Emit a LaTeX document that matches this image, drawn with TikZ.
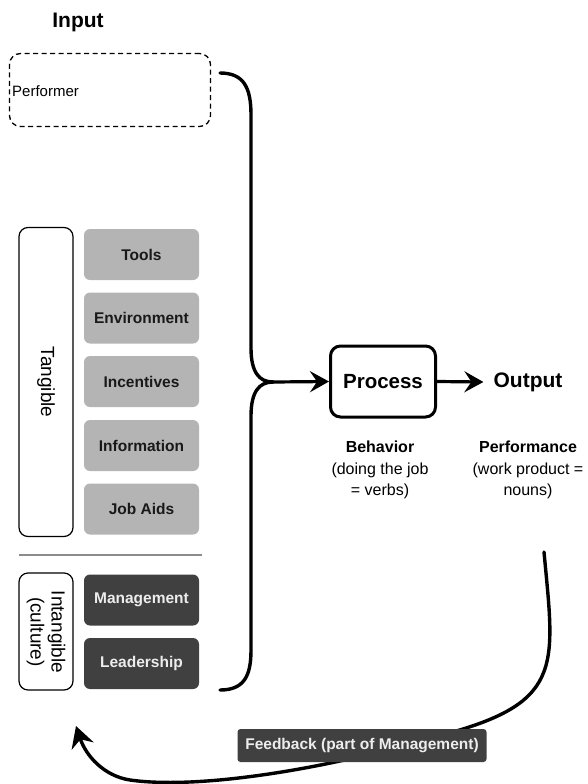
\documentclass[tikz,border=0pt]{standalone}
\usepackage{fontspec}
\setmainfont{Liberation Sans}
\usetikzlibrary{arrows.meta}
\definecolor{lightbox}{HTML}{B4B4B4}
\definecolor{darkbox}{HTML}{404040}
\definecolor{septone}{HTML}{8C8C8C}
\begin{document}
\begin{tikzpicture}[x=1pt,y=-1pt,
  lbox/.style={draw=none,fill=lightbox,rounded corners=6pt,minimum width=115pt,minimum height=51pt,inner sep=0pt,
    font=\fontsize{15.5}{18}\selectfont\bfseries,text=black!90},
  dbox/.style={lbox,fill=darkbox,text=white!93!black},
  sidebox/.style={draw=black,line width=1.2pt,rounded corners=9pt,inner sep=0pt},
  brace/.style={line width=3.4pt,line cap=round},
  arr/.style={line width=3.2pt,-{Stealth[length=19pt,width=21pt,inset=7pt]}},
  bigtxt/.style={font=\fontsize{20.5}{24}\selectfont\bfseries},
  subtxt/.style={font=\fontsize{16}{21.7}\selectfont,align=center}]
\useasboundingbox (0,0) rectangle (588,784);
% Input title
\node[font=\fontsize{21}{24}\selectfont\bfseries] (input) at (78,22) {Input};
% Performer
\node[draw=black,line width=1.3pt,dash pattern=on 5pt off 3.5pt,rounded corners=11pt,minimum width=201pt,minimum height=73pt,inner sep=0pt] (perf) at (110,90) {};
\node[anchor=west,inner sep=0pt,font=\fontsize{15}{17}\selectfont] (perftxt) at (12,91) {Performer};
% Tangible group
\node[sidebox,minimum width=54pt,minimum height=309pt] (tang) at (46,382) {};
\node[rotate=-90,font=\fontsize{19}{21}\selectfont] (tangtxt) at (46,382) {Tangible};
\node[lbox] (tools) at (141.5,254.5) {Tools};
\node[lbox] (env) at (141.5,318) {Environment};
\node[lbox] (inc) at (141.5,381.5) {Incentives};
\node[lbox] (info) at (141.5,445.5) {Information};
\node[lbox] (job) at (141.5,509) {Job Aids};
% separator
\coordinate (sepL) at (19,555);
\coordinate (sepR) at (202,555);
\draw[septone,line width=2pt] (sepL) -- (sepR);
% Intangible group
\node[sidebox,minimum width=54pt,minimum height=117pt] (intang) at (46,631.5) {};
\node[rotate=-90,font=\fontsize{19}{21}\selectfont,align=center] (intangtxt) at (46,632) {Intangible\\(culture)};
\node[dbox] (mgmt) at (141.5,600) {Management};
\node[dbox] (lead) at (141.5,663.5) {Leadership};
% brace
\coordinate (bt) at (220,73);
\coordinate (bb) at (220,690);
\coordinate (tip) at (273,382);
\draw[brace] (bt) .. controls (244,73) and (251,88) .. (251,115) -- (251,348) .. controls (251,372) and (259,382) .. (tip);
\draw[brace] (bb) .. controls (244,690) and (251,676) .. (251,650) -- (251,416) .. controls (251,392) and (259,382) .. (tip);
% process and output
\node[draw=black,line width=3pt,rounded corners=10pt,minimum width=105pt,minimum height=71pt,inner sep=0pt,bigtxt] (proc) at (383,381.5) {Process};
\draw[arr] (tip) -- (proc.west);
\node[font=\fontsize{21}{24}\selectfont\bfseries,inner sep=2pt] (out) at (528,382) {Output};
\draw[arr] (proc.east) -- ([xshift=-8pt]out.west);
\node[subtxt] (beh) at (380,470) {\textbf{Behavior}\\(doing the job\\= verbs)};
\node[subtxt] (perfm) at (528,470) {\textbf{Performance}\\(work product =\\nouns)};
% feedback
\coordinate (fbS) at (544,552);
\coordinate (fbE) at (76,726);
\draw[line width=3.4pt,line cap=round,-{Stealth[length=21pt,width=23pt,inset=7pt]}] (fbS) .. controls (555,670) and (565,705) .. (430,738) .. controls (330,768) and (200,790) .. (130,780) .. controls (104,776) and (86,756) .. (fbE);
\node[draw=none,fill=darkbox,rounded corners=3pt,minimum width=249pt,minimum height=33pt,inner sep=0pt,font=\fontsize{15.5}{18}\selectfont\bfseries,text=white!93!black] (fb) at (362,745.5) {Feedback (part of Management)};
\end{tikzpicture}
\end{document}
